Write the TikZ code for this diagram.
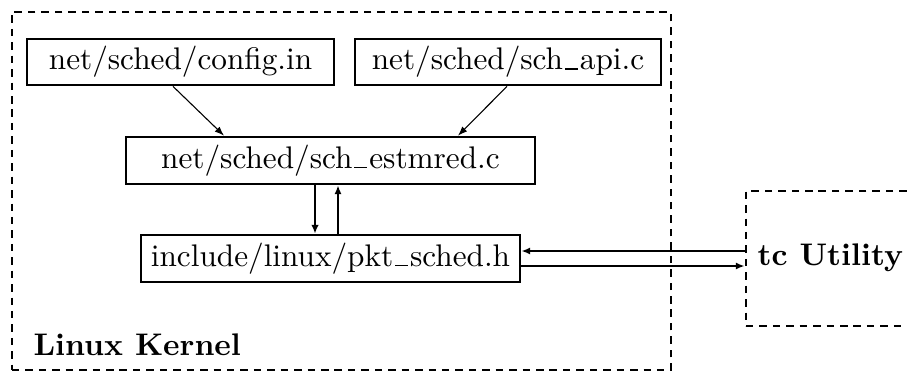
\documentclass[tikz,border=0pt]{standalone}
\usetikzlibrary{arrows.meta,calc}
\newcommand{\usc}{\leavevmode\kern.06em\vbox{\hrule width .42em height .45pt}\kern.06em}
\begin{document}
\begin{tikzpicture}[x=0.32pt,y=-0.32pt,
  filebox/.style={draw,line width=0.9pt,inner sep=0pt,font=\fontsize{10}{12}\selectfont},
  groupbox/.style={draw,line width=0.9pt,dash pattern=on 2.4pt off 1.9pt},
  thinarr/.style={line width=0.35pt,-{Latex[length=3pt,width=2.2pt]}},
  midarr/.style={line width=0.6pt,-{Latex[length=2.8pt,width=2.3pt]}},
  thickarr/.style={line width=0.9pt,-{Latex[length=2.8pt,width=2.4pt]}},
  lbl/.style={inner sep=0pt,font=\bfseries}]
\useasboundingbox (0,0) rectangle (907,373);
\clip (0,0) rectangle (907,373);
% groups
\node[groupbox,minimum width=210.9pt,minimum height=114.6pt,inner sep=0pt] (kernel) at (341.5,191) {};
\node[groupbox,minimum width=55.7pt,minimum height=43.2pt,inner sep=0pt] (tcbox) at (833,258.5) {};
\node[lbl,anchor=base west] (kl) at (33,355) {Linux Kernel};
\node[lbl,anchor=west] (tcl) at (757,258) {tc Utility};
% files
\node[filebox,minimum width=98.2pt,minimum height=14.7pt] (config) at (180.5,62) {net/sched/config.in};
\node[filebox,minimum width=97.9pt,minimum height=14.7pt] (api) at (508,62) {net/sched/sch\usc api.c};
\node[filebox,minimum width=130.9pt,minimum height=15pt] (estm) at (330.5,160.5) {net/sched/sch\usc estmred.c};
\node[filebox,minimum width=121.3pt,minimum height=15pt] (pkt) at (330.5,258.5) {include/linux/pkt\usc sched.h};
% connectors
\draw[thinarr] ($(config.south)+(-7.5,0)$) -- ($(estm.north)+(-106.5,0)$);
\draw[thinarr] ($(api.south)+(-1,0)$) -- ($(estm.north)+(127.5,0)$);
\draw[thickarr] ($(estm.south)+(-15.5,0)$) -- ($(pkt.north)+(-15.5,0)$);
\draw[midarr] ($(pkt.north)+(7.5,0)$) -- ($(estm.south)+(7.5,0)$);
\draw[midarr] ($(tcbox.west)+(0,-7.5)$) -- ($(pkt.east)+(0,-7.5)$);
\draw[midarr] ($(pkt.east)+(0,7.5)$) -- ($(tcbox.west)+(0,7.5)$);
\end{tikzpicture}
\end{document}
